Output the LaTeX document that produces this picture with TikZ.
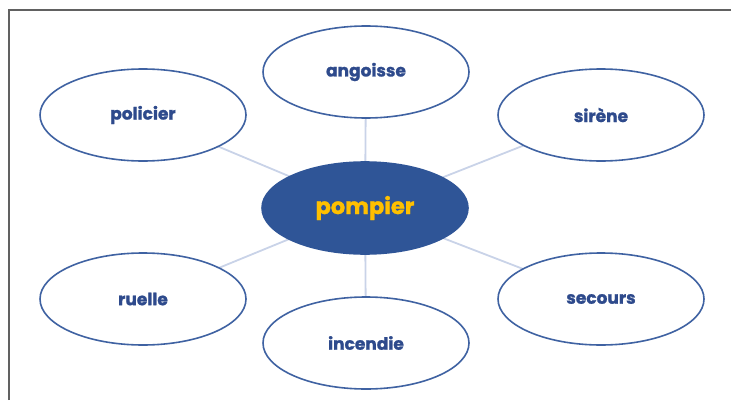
\documentclass[tikz,border=0pt]{standalone}
\usepackage{fontspec}
\setmainfont{Poppins}
\newfontfamily\heavy{Poppins}[FakeBold=1.3]
\usetikzlibrary{shapes.geometric,backgrounds}
\definecolor{dblue}{HTML}{2F5597}
\definecolor{eline}{HTML}{3F62A2}
\definecolor{tblue}{HTML}{2E4A8C}
\definecolor{lnk}{HTML}{C9D3E8}
\definecolor{gold}{HTML}{FFC000}
\tikzset{
  word/.style={ellipse, draw=eline, line width=1.6pt, fill=white,
    minimum width=206pt, minimum height=92pt, inner sep=0pt,
    font=\heavy\bfseries\fontsize{17}{17}\selectfont, text=tblue},
  hub/.style={word, draw=dblue, fill=dblue, text=gold, font=\heavy\bfseries\fontsize{22.5}{22.5}\selectfont},
  link/.style={draw=lnk, line width=1.8pt},
}
\begin{document}
\begin{tikzpicture}[x=1pt,y=1pt]
\useasboundingbox (0,0) rectangle (731,400);
\draw[line width=2pt, draw=black!62] (9,0) -- (9,390) -- (731,390);
\node[word] (ang) at (366,328) {angoisse};
\node[word] (pol) at (143,285) {policier};
\node[word] (sir) at (601,285) {sirène};
\node[word] (rue) at (143,101) {ruelle};
\node[word] (sec) at (601,101) {secours};
\node[word] (inc) at (366,57) {incendie};
\node[hub] (pom) at (365,192) {pompier};
\begin{scope}[on background layer]
\foreach \n in {ang,pol,sir,rue,sec,inc}{
  \path[link] (pom.center) -- (\n.center);
}
\end{scope}
\end{tikzpicture}
\end{document}
